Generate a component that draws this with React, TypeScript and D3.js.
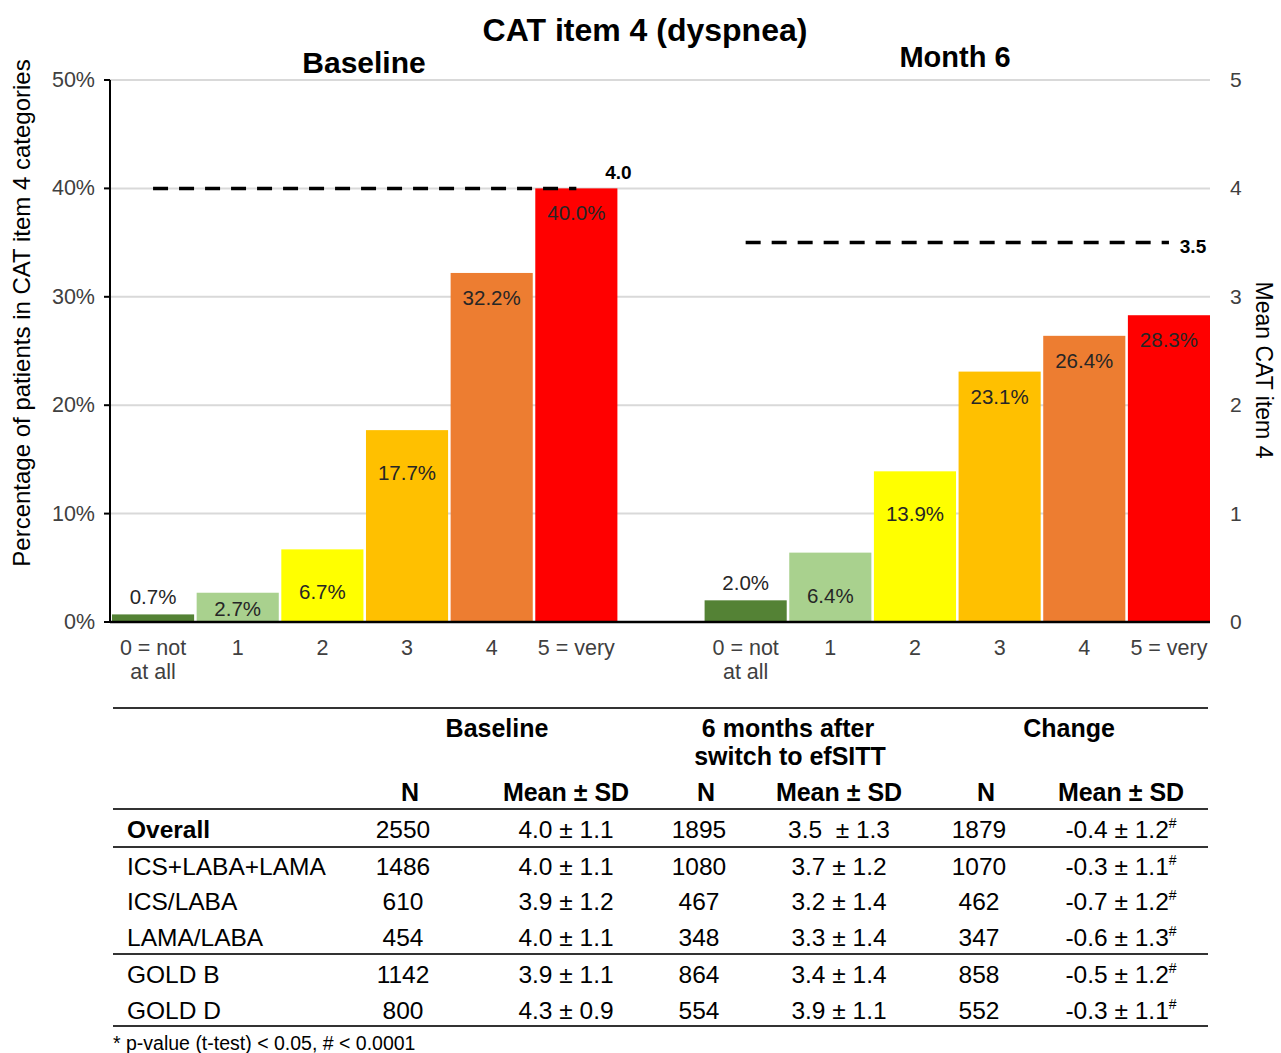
import React from "react";
import * as d3 from "d3";

const title = "CAT item 4 (dyspnea)";
const panelTitles = ["Baseline", "Month 6"];
const categories = ["0 = not|at all", "1", "2", "3", "4", "5 = very"];
const baselinePct = [0.7, 2.7, 6.7, 17.7, 32.2, 40.0];
const month6Pct = [2.0, 6.4, 13.9, 23.1, 26.4, 28.3];
const barColors = ["#548235", "#a9d18e", "#ffff00", "#ffc000", "#ed7d31", "#ff0000"];
const meanValues = [4.0, 3.5];
const leftTicks = [0, 10, 20, 30, 40, 50];
const rightTicks = [0, 1, 2, 3, 4, 5];

const rowLabels = ["Overall", "ICS+LABA+LAMA", "ICS/LABA", "LAMA/LABA", "GOLD B", "GOLD D"];
const baselineN = ["2550", "1486", "610", "454", "1142", "800"];
const baselineMeanSD = ["4.0 ± 1.1", "4.0 ± 1.1", "3.9 ± 1.2", "4.0 ± 1.1", "3.9 ± 1.1", "4.3 ± 0.9"];
const month6N = ["1895", "1080", "467", "348", "864", "554"];
const month6MeanSD = ["3.5  ± 1.3", "3.7 ± 1.2", "3.2 ± 1.4", "3.3 ± 1.4", "3.4 ± 1.4", "3.9 ± 1.1"];
const changeN = ["1879", "1070", "462", "347", "858", "552"];
const changeMeanSD = ["-0.4 ± 1.2", "-0.3 ± 1.1", "-0.7 ± 1.2", "-0.6 ± 1.3", "-0.5 ± 1.2", "-0.3 ± 1.1"];
const changeMark = ["#", "#", "#", "#", "#", "#"];
const footnote = "* p-value (t-test) < 0.05, # < 0.0001";

const FONT = "'Liberation Sans', Arial, Helvetica, sans-serif";

export default function App() {
  const W = 1281, H = 1053;
  const left = 110, right = 1210, top = 80, bottom = 622;
  const slots = [...categories.map((_, i) => "b" + i), "gap", ...categories.map((_, i) => "m" + i)];
  const x = d3.scaleBand<string>().domain(slots).range([112, right]).paddingInner(0.03).paddingOuter(0);
  const y = d3.scaleLinear().domain([0, 50]).range([bottom, top]);
  const yR = d3.scaleLinear().domain([0, 5]).range([bottom, top]);
  const bw = x.bandwidth();

  const groups = [
    { key: "b", vals: baselinePct, mean: meanValues[0], title: panelTitles[0] },
    { key: "m", vals: month6Pct, mean: meanValues[1], title: panelTitles[1] },
  ];

  const labelY = (v: number) => {
    const t = y(v);
    if (v < 2.5) return t - 10;
    const off = v >= 20 ? 32 : 50;
    return Math.min(t + off, bottom - 6);
  };

  // table layout
  const tLeft = 113, tRight = 1208;
  const colX = [403, 566, 699, 839, 979, 1121];
  const rowY = [838, 875, 910, 946, 983, 1019];
  const hLines = [708, 809, 847, 954, 1026];

  return (
    <svg width={W} height={H} style={{ position: "absolute", left: 0, top: 0, background: "#fff" }} fontFamily={FONT}>
      <rect x={0} y={0} width={W} height={H} fill="#fff" />
      {/* title */}
      <text x={645} y={41} textAnchor="middle" fontSize={32} fontWeight="bold" fill="#000">{title}</text>
      <text x={364} y={73} textAnchor="middle" fontSize={30} fontWeight="bold" fill="#000">{panelTitles[0]}</text>
      <text x={955} y={67} textAnchor="middle" fontSize={29} fontWeight="bold" fill="#000">{panelTitles[1]}</text>

      {/* gridlines */}
      {leftTicks.filter((t) => t > 0).map((t) => (
        <line key={t} x1={left} x2={right} y1={y(t)} y2={y(t)} stroke="#d9d9d9" strokeWidth={2} />
      ))}

      {/* left axis */}
      <line x1={left} x2={left} y1={top} y2={bottom} stroke="#000" strokeWidth={2} />
      {leftTicks.map((t) => (
        <g key={t}>
          <line x1={left - 6} x2={left} y1={y(t)} y2={y(t)} stroke="#000" strokeWidth={2} />
          <text x={95} y={y(t) + 7} textAnchor="end" fontSize={21.5} fill="#404040">{t + "%"}</text>
        </g>
      ))}
      {/* right axis labels */}
      {rightTicks.map((t) => (
        <text key={t} x={1230} y={yR(t) + 7} textAnchor="start" fontSize={21} fill="#404040">{t}</text>
      ))}

      {/* axis titles */}
      <text transform={`translate(30,${313}) rotate(-90)`} textAnchor="middle" fontSize={24} fill="#000">
        Percentage of patients in CAT item 4 categories
      </text>
      <text transform={`translate(1256,${370}) rotate(90)`} textAnchor="middle" fontSize={23} fill="#000">
        Mean CAT item 4
      </text>

      {/* bars */}
      {groups.map((g) => (
        <g key={g.key}>
          {g.vals.map((v, i) => {
            const bx = x(g.key + i)!;
            return (
              <g key={i}>
                <rect x={bx} y={y(v)} width={bw} height={bottom - y(v)} fill={barColors[i]} />
                <text x={bx + bw / 2} y={labelY(v)} textAnchor="middle" fontSize={20.5} fill="#262626">
                  {v.toFixed(1) + "%"}
                </text>
              </g>
            );
          })}
          {/* category labels */}
          {categories.map((c, i) => {
            const cx = x(g.key + i)! + bw / 2;
            const lines = c.split("|");
            return (
              <text key={i} x={cx} y={655} textAnchor="middle" fontSize={21.5} fill="#404040">
                {lines.map((l, j) => (
                  <tspan key={j} x={cx} dy={j === 0 ? 0 : 24}>{l}</tspan>
                ))}
              </text>
            );
          })}
          {/* mean line */}
          <line
            x1={x(g.key + 0)! + bw / 2}
            x2={x(g.key + (g.vals.length - 1))! + bw / 2}
            y1={yR(g.mean)}
            y2={yR(g.mean)}
            stroke="#000"
            strokeWidth={3.5}
            strokeDasharray="15 11"
          />
        </g>
      ))}
      <text x={x("b5")! + bw + 1} y={yR(meanValues[0]) - 9} textAnchor="middle" fontSize={19} fontWeight="bold" fill="#000">
        {meanValues[0].toFixed(1)}
      </text>
      <text x={1193} y={yR(meanValues[1]) + 10} textAnchor="middle" fontSize={19} fontWeight="bold" fill="#000">
        {meanValues[1].toFixed(1)}
      </text>

      {/* x axis line */}
      <line x1={left} x2={right} y1={bottom} y2={bottom} stroke="#000" strokeWidth={2.5} />

      {/* table */}
      {hLines.map((ly, i) => (
        <line key={i} x1={tLeft} x2={tRight} y1={ly} y2={ly} stroke="#333" strokeWidth={2} />
      ))}
      <g fontSize={25} fill="#000" textAnchor="middle">
        <text x={497} y={737} fontWeight="bold">Baseline</text>
        <text x={788} y={737} fontWeight="bold">6 months after</text>
        <text x={790} y={765} fontWeight="bold">switch to efSITT</text>
        <text x={1069} y={737} fontWeight="bold">Change</text>
        {["N", "Mean ± SD", "N", "Mean ± SD", "N", "Mean ± SD"].map((h, i) => (
          <text key={i} x={colX[i] + (i % 2 === 0 ? 7 : 0)} y={801} fontWeight="bold">{h}</text>
        ))}
      </g>
      <g fontSize={24.5} fill="#000">
        {rowLabels.map((r, i) => (
          <g key={r}>
            <text x={127} y={rowY[i]} fontWeight={i === 0 ? "bold" : "normal"}>{r}</text>
            <text x={colX[0]} y={rowY[i]} textAnchor="middle">{baselineN[i]}</text>
            <text x={colX[1]} y={rowY[i]} textAnchor="middle">{baselineMeanSD[i]}</text>
            <text x={colX[2]} y={rowY[i]} textAnchor="middle">{month6N[i]}</text>
            <text x={colX[3]} y={rowY[i]} textAnchor="middle" style={{ whiteSpace: "pre" }}>{month6MeanSD[i]}</text>
            <text x={colX[4]} y={rowY[i]} textAnchor="middle">{changeN[i]}</text>
            <text x={colX[5]} y={rowY[i]} textAnchor="middle">
              {changeMeanSD[i]}
              <tspan fontSize={14} dy={-10}>{changeMark[i]}</tspan>
            </text>
          </g>
        ))}
      </g>
      <text x={113} y={1050} fontSize={19.5} fill="#000">{footnote}</text>
    </svg>
  );
}
